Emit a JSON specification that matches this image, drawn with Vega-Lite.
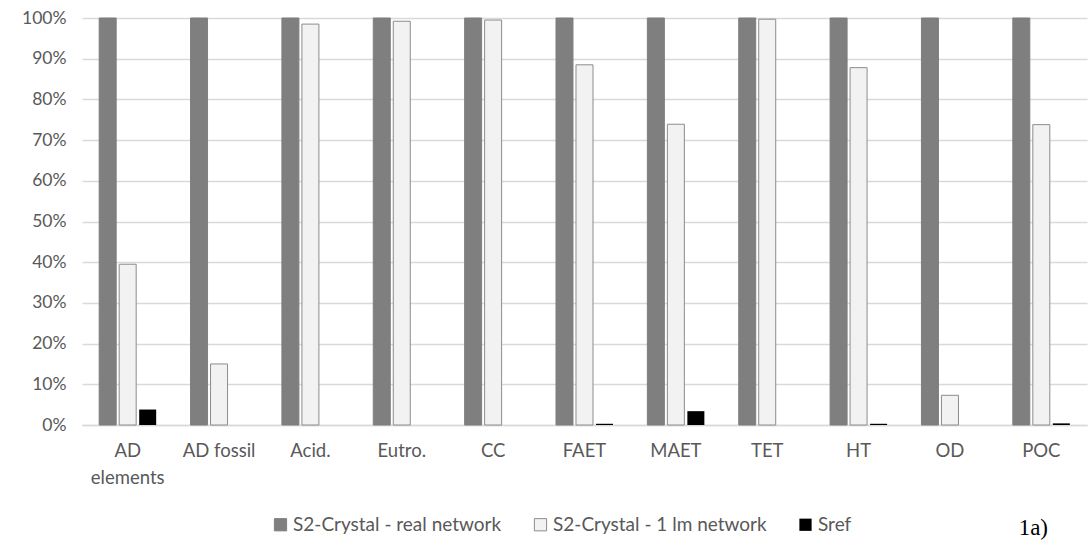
{
  "$schema": "https://vega.github.io/schema/vega-lite/v6.json",
  "autosize": {"type": "none"},
  "width": 1005,
  "height": 407,
  "padding": {"left": 82, "top": 18, "right": 2, "bottom": 117},
  "background": "white",
  "config": {"view": {"stroke": null}, "font": "Lato"},
  "title": {"text": "1a)", "orient": "bottom", "anchor": "end", "font": "Liberation Serif", "fontSize": 23, "fontWeight": "normal", "color": "#000000", "offset": -18, "dx": -39},
  "data": {"values": [
    {"cat": "AD elements", "series": "S2-Crystal - real network", "value": 1.0},
    {"cat": "AD elements", "series": "S2-Crystal - 1 lm network", "value": 0.395},
    {"cat": "AD elements", "series": "Sref", "value": 0.038},
    {"cat": "AD fossil", "series": "S2-Crystal - real network", "value": 1.0},
    {"cat": "AD fossil", "series": "S2-Crystal - 1 lm network", "value": 0.15},
    {"cat": "AD fossil", "series": "Sref", "value": 0.0},
    {"cat": "Acid.", "series": "S2-Crystal - real network", "value": 1.0},
    {"cat": "Acid.", "series": "S2-Crystal - 1 lm network", "value": 0.985},
    {"cat": "Acid.", "series": "Sref", "value": 0.0},
    {"cat": "Eutro.", "series": "S2-Crystal - real network", "value": 1.0},
    {"cat": "Eutro.", "series": "S2-Crystal - 1 lm network", "value": 0.992},
    {"cat": "Eutro.", "series": "Sref", "value": 0.0},
    {"cat": "CC", "series": "S2-Crystal - real network", "value": 1.0},
    {"cat": "CC", "series": "S2-Crystal - 1 lm network", "value": 0.995},
    {"cat": "CC", "series": "Sref", "value": 0.0},
    {"cat": "FAET", "series": "S2-Crystal - real network", "value": 1.0},
    {"cat": "FAET", "series": "S2-Crystal - 1 lm network", "value": 0.885},
    {"cat": "FAET", "series": "Sref", "value": 0.003},
    {"cat": "MAET", "series": "S2-Crystal - real network", "value": 1.0},
    {"cat": "MAET", "series": "S2-Crystal - 1 lm network", "value": 0.739},
    {"cat": "MAET", "series": "Sref", "value": 0.034},
    {"cat": "TET", "series": "S2-Crystal - real network", "value": 1.0},
    {"cat": "TET", "series": "S2-Crystal - 1 lm network", "value": 0.997},
    {"cat": "TET", "series": "Sref", "value": 0.0},
    {"cat": "HT", "series": "S2-Crystal - real network", "value": 1.0},
    {"cat": "HT", "series": "S2-Crystal - 1 lm network", "value": 0.878},
    {"cat": "HT", "series": "Sref", "value": 0.003},
    {"cat": "OD", "series": "S2-Crystal - real network", "value": 1.0},
    {"cat": "OD", "series": "S2-Crystal - 1 lm network", "value": 0.073},
    {"cat": "OD", "series": "Sref", "value": 0.0},
    {"cat": "POC", "series": "S2-Crystal - real network", "value": 1.0},
    {"cat": "POC", "series": "S2-Crystal - 1 lm network", "value": 0.738},
    {"cat": "POC", "series": "Sref", "value": 0.004}
  ]},
  "mark": {"type": "bar", "strokeWidth": 1},
  "encoding": {
    "x": {
      "field": "cat", "type": "nominal", "sort": null, "title": null,
      "scale": {"paddingInner": 0.376, "paddingOuter": 0.188},
      "axis": {
        "labelAngle": 0, "ticks": false, "domainColor": "#d9d9d9", "domainWidth": 1.5,
        "labelFontSize": 18.5, "labelColor": "#595959", "labelPadding": 16, "labelLineHeight": 27,
        "labelExpr": "datum.label == 'AD elements' ? ['AD', 'elements'] : datum.label"
      }
    },
    "xOffset": {
      "field": "series", "type": "nominal", "sort": ["S2-Crystal - real network", "S2-Crystal - 1 lm network", "Sref"],
      "scale": {"paddingInner": 0.15, "paddingOuter": 0}
    },
    "y": {
      "field": "value", "type": "quantitative", "title": null,
      "scale": {"domain": [0, 1], "nice": false},
      "axis": {
        "format": ".0%", "values": [0, 0.1, 0.2, 0.3, 0.4, 0.5, 0.6, 0.7, 0.8, 0.9, 1.0], "labelOverlap": false,
        "domain": false, "ticks": false, "gridColor": "#d9d9d9", "gridWidth": 1.5,
        "labelFontSize": 17.5, "labelColor": "#595959", "labelPadding": 16
      }
    },
    "fill": {
      "field": "series", "type": "nominal",
      "scale": {"domain": ["S2-Crystal - real network", "S2-Crystal - 1 lm network", "Sref"], "range": ["#7f7f7f", "#f2f2f2", "#000000"]},
      "legend": {
        "title": null, "orient": "none", "direction": "horizontal", "legendX": 189, "legendY": 497,
        "symbolType": "square", "symbolSize": 150, "symbolStrokeWidth": 1, "labelLimit": 300,
        "labelFontSize": 19, "labelColor": "#595959", "labelOffset": 3, "columnPadding": 29
      }
    },
    "stroke": {
      "field": "series", "type": "nominal",
      "scale": {"domain": ["S2-Crystal - real network", "S2-Crystal - 1 lm network", "Sref"], "range": ["#7f7f7f", "#8c8c8c", "transparent"]},
      "legend": null
    }
  }
}
